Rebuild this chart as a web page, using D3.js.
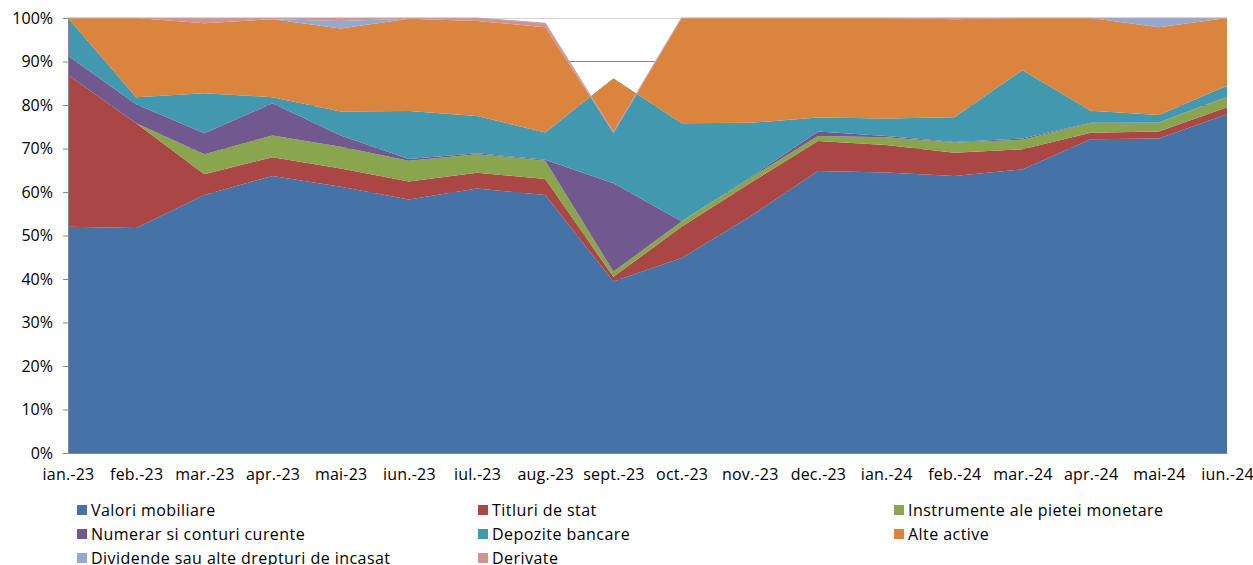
<!DOCTYPE html>
<html>
<head>
<meta charset="utf-8">
<script src="https://cdn.jsdelivr.net/npm/d3@7"></script>
<style>
  html, body { margin: 0; padding: 0; background: #fff; }
  svg { display: block; }
  text { font-family: "Open Sans", "Lato", sans-serif; fill: #000; }
</style>
</head>
<body>
<svg id="chart" width="1253" height="565"></svg>
<script>
const months = ["ian.-23","feb.-23","mar.-23","apr.-23","mai-23","iun.-23","iul.-23","aug.-23","sept.-23","oct.-23","nov.-23","dec.-23","ian.-24","feb.-24","mar.-24","apr.-24","mai-24","iun.-24"];
const seriesNames = ["Valori mobiliare","Titluri de stat","Instrumente ale pietei monetare","Numerar si conturi curente","Depozite bancare","Alte active","Dividende sau alte drepturi de incasat","Derivate"];
const valoriMobiliare   = [52.0, 51.7, 59.3, 63.7, 61.2, 58.3, 60.8, 59.3, 39.4, 44.8, 54.3, 64.8, 64.5, 63.7, 65.2, 72.1, 72.3, 77.9];
const titluriDeStat     = [34.9, 24.1,  4.8,  4.3,  4.2,  4.1,  3.6,  3.7,  1.1,  7.2,  7.7,  6.9,  6.3,  5.3,  4.6,  1.5,  1.6,  1.6];
const instrumente       = [ 0.0,  0.0,  4.6,  5.0,  5.0,  4.8,  4.3,  4.2,  1.2,  1.2,  1.1,  1.2,  1.8,  2.4,  2.2,  2.2,  2.0,  2.3];
const numerar           = [ 4.4,  4.4,  4.8,  7.4,  2.6,  0.4,  0.2,  0.2, 20.3,  0.1,  0.2,  1.0,  0.3,  0.1,  0.3,  0.1,  0.1,  0.1];
const depozite          = [ 8.7,  1.6,  9.2,  1.4,  5.5, 11.0,  8.6,  6.3, 24.1, 22.5, 12.6,  3.2,  4.0,  5.7, 15.7,  2.8,  1.7,  2.5];
const alteActive        = [ 0.0, 18.2, 16.1, 17.9, 19.1, 21.2, 21.8, 24.2,-12.4, 24.2, 24.1, 22.9, 23.1, 22.5, 12.0, 21.3, 20.2, 15.6];
const dividende         = [ 0.0,  0.0,  0.0,  0.0,  1.7,  0.0,  0.0,  0.0,  0.0,  0.0,  0.0,  0.0,  0.0,  0.0,  0.0,  0.0,  2.1,  0.0];
const derivate          = [ 0.0,  0.0,  1.2,  0.3,  0.7,  0.2,  0.7,  0.9,  0.0,  0.0,  0.0,  0.0,  0.0,  0.3,  0.0,  0.0,  0.0,  0.0];
const yTicks = [0,10,20,30,40,50,60,70,80,90,100];
const colors = ["#4572A7","#AA4643","#89A54E","#71588F","#4198AF","#DB843D","#93A9CF","#D19392"];

const seriesValues = [valoriMobiliare, titluriDeStat, instrumente, numerar, depozite, alteActive, dividende, derivate];
const rows = months.map((m, i) => {
  const r = { month: m };
  seriesNames.forEach((s, k) => r[s] = seriesValues[k][i]);
  return r;
});
const stacked = d3.stack().keys(seriesNames).offset(d3.stackOffsetNone)(rows);

const svg = d3.select("#chart");
const pLeft = 68, pRight = 1227, pTop = 18, pBottom = 453;
const x = d3.scalePoint().domain(months).range([pLeft, pRight]);
const y = d3.scaleLinear().domain([0, 100]).range([pBottom, pTop]);

// gridlines
svg.append("g").selectAll("line").data(yTicks.filter(t => t > 0)).join("line")
  .attr("x1", pLeft).attr("x2", pRight)
  .attr("y1", d => y(d)).attr("y2", d => y(d))
  .attr("stroke", d => d === 100 ? "#d4d4d4" : "#868686")
  .attr("stroke-width", 1)
  .attr("shape-rendering", "crispEdges");

// areas
const area = d3.area()
  .x(d => x(d.data.month))
  .y0(d => y(d[0]))
  .y1(d => y(d[1]));
svg.append("g").selectAll("path").data(stacked).join("path")
  .attr("d", area)
  .attr("fill", (d, i) => colors[i]);

// thin top edge of last series
const topLine = d3.line().x(d => x(d.data.month)).y(d => y(d[1]));
svg.append("path").datum(stacked[stacked.length - 1])
  .attr("d", topLine)
  .attr("fill", "none")
  .attr("stroke", "#c7a3ad")
  .attr("stroke-width", 1.2);

// y axis
const yAxis = d3.axisLeft(y).tickValues(yTicks).tickFormat(d => d + "%").tickSize(5).tickPadding(10);
const gy = svg.append("g").attr("transform", `translate(${pLeft},0)`).call(yAxis);
gy.select(".domain").attr("stroke", "#868686");
gy.selectAll(".tick line").attr("stroke", "#868686");
gy.selectAll(".tick text").style("font-size", "16px").style("font-family", "'Open Sans', sans-serif").attr("fill", "#000");

// x axis
const xAxis = d3.axisBottom(x).tickSize(0).tickPadding(16);
const gx = svg.append("g").attr("transform", `translate(0,${pBottom})`).call(xAxis);
gx.select(".domain").attr("stroke", "#868686");
gx.selectAll(".tick text").style("font-size", "16px").style("letter-spacing", "0.2px")
  .style("font-family", "'Open Sans', sans-serif").attr("fill", "#000");

// legend
const legendCols = [80, 481, 897];
const legendRows = [510, 534, 558];
const lg = svg.append("g");
seriesNames.forEach((name, i) => {
  const cx = legendCols[i % 3], cy = legendRows[Math.floor(i / 3)];
  lg.append("rect").attr("x", cx - 3).attr("y", cy - 5).attr("width", 10).attr("height", 10).attr("fill", colors[i]);
  lg.append("text").attr("x", cx + 11).attr("y", cy).attr("dy", "0.35em")
    .style("font-size", "16px").style("letter-spacing", "0.45px").text(name);
});
</script>
</body>
</html>
